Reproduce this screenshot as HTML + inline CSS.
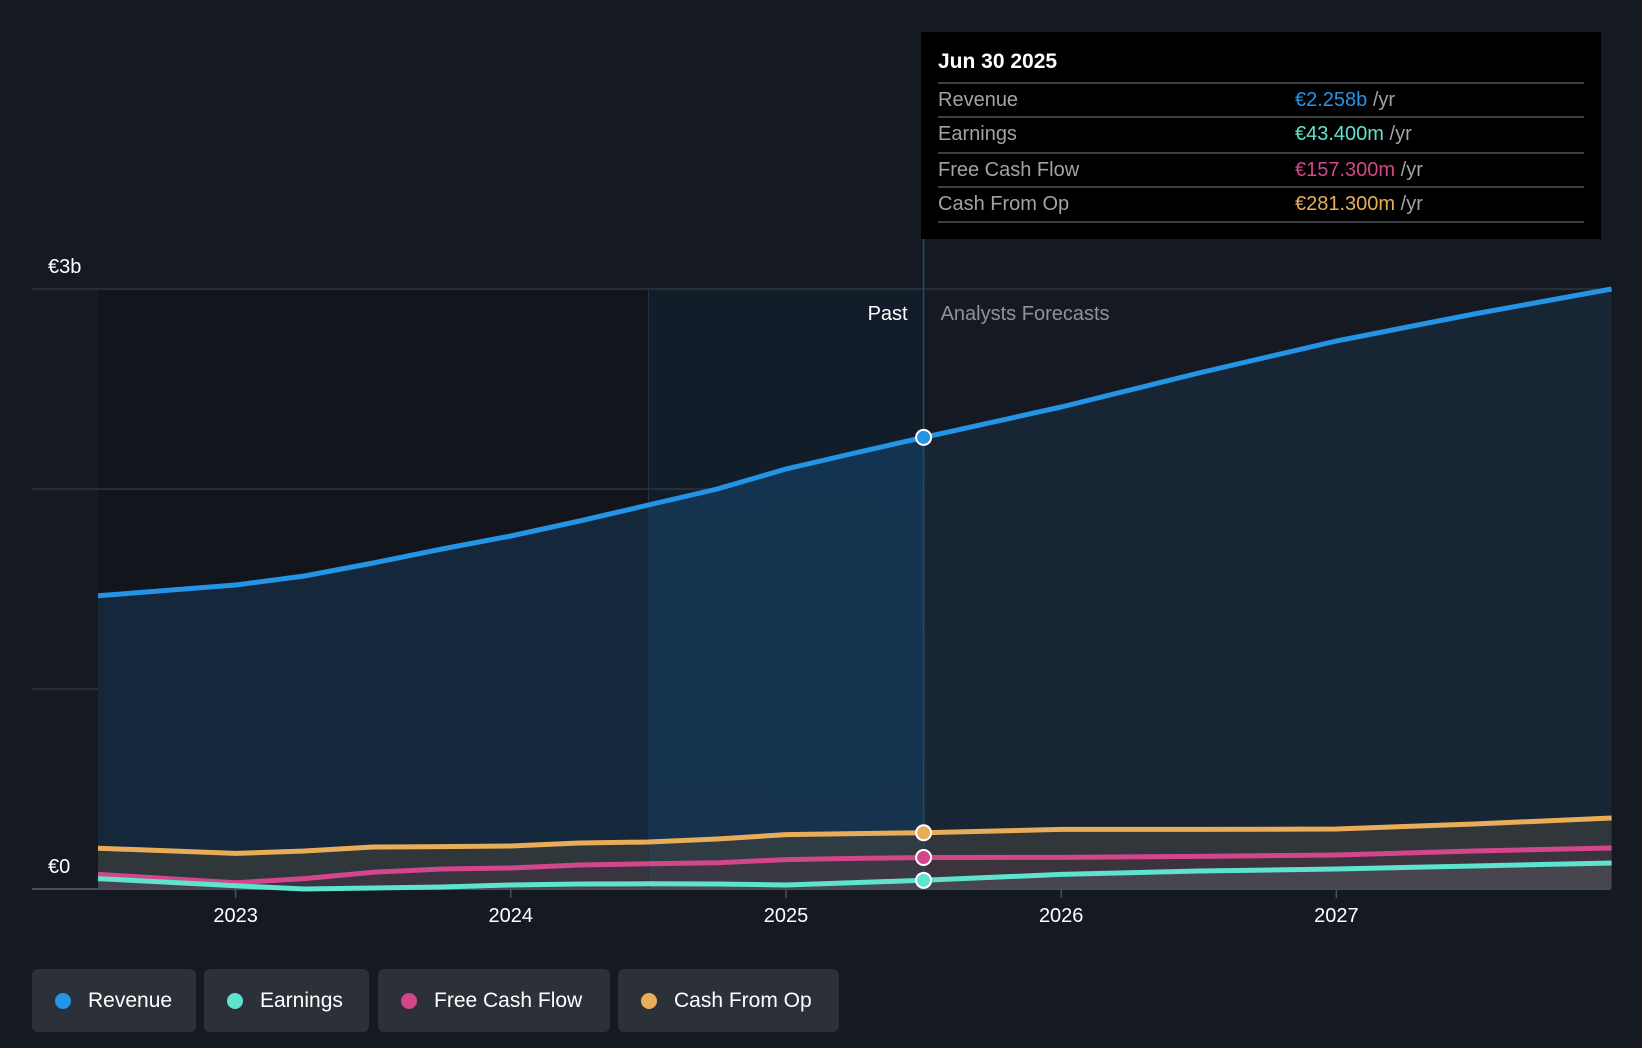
<!DOCTYPE html>
<html><head><meta charset="utf-8"><style>
html,body{margin:0;padding:0;background:#151a22;width:1642px;height:1048px;overflow:hidden;font-family:"Liberation Sans",sans-serif}
svg{position:absolute;left:0;top:0}
.tt{position:absolute;left:921px;top:32px;width:680px;height:207px;background:#000;color:#fff}
.tt .h{position:absolute;left:17px;top:18px;font-size:21px;font-weight:bold;color:#fff}
.row{position:absolute;left:17px;width:646px;height:34px;border-top:2px solid #3a3d42;font-size:20px;color:#a0a3a8;line-height:33px}
.row .v{position:absolute;left:357px;top:0}
.row .u{color:#a0a3a8}
.leg{position:absolute;top:969px;height:63px;background:#2c3038;border-radius:6px;color:#fff;font-size:21px;line-height:63px}
.leg i{position:absolute;left:23px;top:24px;width:16px;height:16px;border-radius:50%}
.leg span{position:absolute;left:56px}
</style></head><body>
<svg id="chart" width="1642" height="1048"></svg>
<div class="tt">
<div class="h">Jun 30 2025</div>
<div class="row" style="top:50px">Revenue<span class="v"><b style="font-weight:normal;color:#2394e6">€2.258b</b> <span class="u">/yr</span></span></div>
<div class="row" style="top:84px">Earnings<span class="v"><b style="font-weight:normal;color:#5ee3cf">€43.400m</b> <span class="u">/yr</span></span></div>
<div class="row" style="top:120px">Free Cash Flow<span class="v"><b style="font-weight:normal;color:#d2468c">€157.300m</b> <span class="u">/yr</span></span></div>
<div class="row" style="top:154px">Cash From Op<span class="v"><b style="font-weight:normal;color:#e9ad5a">€281.300m</b> <span class="u">/yr</span></span></div>
<div class="row" style="top:189px;height:0"></div>
</div>
<div class="leg" style="left:32px;width:164px"><i style="background:#2394e6"></i><span>Revenue</span></div>
<div class="leg" style="left:204px;width:165px"><i style="background:#5ee3cf"></i><span>Earnings</span></div>
<div class="leg" style="left:378px;width:232px"><i style="background:#d2468c"></i><span>Free Cash Flow</span></div>
<div class="leg" style="left:618px;width:221px"><i style="background:#e9ad5a"></i><span>Cash From Op</span></div>
<script>
const years=[2022.5,2023,2023.25,2023.5,2023.75,2024,2024.25,2024.5,2024.75,2025,2025.25,2025.5,2026,2026.5,2027,2027.5,2028];
const revenue=[1.466,1.52,1.565,1.63,1.70,1.765,1.84,1.92,2.0,2.10,2.18,2.258,2.41,2.58,2.74,2.875,3.0];
const earnings=[0.052,0.016,0.0,0.005,0.01,0.02,0.025,0.026,0.025,0.02,0.032,0.0434,0.073,0.09,0.10,0.115,0.13];
const fcf=[0.073,0.031,0.052,0.084,0.10,0.105,0.12,0.126,0.131,0.147,0.153,0.1573,0.158,0.163,0.17,0.19,0.205];
const cfo=[0.204,0.178,0.19,0.21,0.212,0.215,0.23,0.235,0.25,0.272,0.277,0.2813,0.298,0.298,0.30,0.325,0.355];
const yTicks=[0,1,2,3];
const yLabels=["€0","","","€3b"];
const xTicks=[2023,2024,2025,2026,2027];
const pastEnd=2025.5, highlightStart=2024.5;
const NS="http://www.w3.org/2000/svg";
const svg=document.getElementById('chart');
const X=t=>235.6+(t-2023)*275.2;
const Y=v=>889-v*200;
function el(tag,attrs,parent){const e=document.createElementNS(NS,tag);for(const k in attrs)e.setAttribute(k,attrs[k]);(parent||svg).appendChild(e);return e;}
const defs=el('defs',{});
const g=el('linearGradient',{id:'pg',x1:0,y1:0,x2:0,y2:1},defs);
el('stop',{offset:0,'stop-color':'#123553'},g);el('stop',{offset:1,'stop-color':'#16324c'},g);
let r=el('rect',{x:X(years[0]),y:Y(3),width:X(highlightStart)-X(years[0]),height:Y(0)-Y(3),fill:'#12161c'});

r=el('rect',{x:X(highlightStart),y:Y(3),width:X(pastEnd)-X(highlightStart),height:Y(0)-Y(3),fill:'#111d29'});

yTicks.forEach((v,i)=>{const l=el('line',{x1:32,x2:1610,y1:Y(v),y2:Y(v),stroke:i==0?'#4a4f57':'#343a44','stroke-width':i==0?2:1.3});

if(yLabels[i]){const t=el('text',{x:48,y:Y(v)-16,fill:'#fff','font-size':20,'font-family':'Liberation Sans'});t.textContent=yLabels[i];
}});
function path(vals,close){let d='';years.forEach((t,i)=>{d+=(i?'L':'M')+X(t).toFixed(1)+','+Y(vals[i]).toFixed(1);});
if(close)d+='L'+X(years[years.length-1])+','+Y(0)+'L'+X(years[0])+','+Y(0)+'Z';return d;}
const clipP=el('clipPath',{id:'cp'},defs);el('rect',{x:0,y:0,width:X(pastEnd),height:1048},clipP);
const clipF=el('clipPath',{id:'cf'},defs);el('rect',{x:X(pastEnd),y:0,width:1642,height:1048},clipF);
const clipA=el('clipPath',{id:'ca'},defs);el('rect',{x:0,y:0,width:X(highlightStart),height:1048},clipA);
let a=el('path',{d:path(revenue,true),fill:'#15273a','clip-path':'url(#ca)'});
const clipH=el('clipPath',{id:'ch'},defs);el('rect',{x:X(highlightStart),y:0,width:X(pastEnd)-X(highlightStart),height:1048},clipH);
a=el('path',{d:path(revenue,true),fill:'url(#pg)','clip-path':'url(#ch)'});
a=el('path',{d:path(revenue,true),fill:'#182535','clip-path':'url(#cf)'});
[[cfo,'rgba(70,70,60,0.55)','cfo-area'],[fcf,'rgba(80,50,70,0.35)','fcf-area'],[earnings,'rgba(100,110,120,0.3)','earnings-area']].forEach(s=>{
const p=el('path',{d:path(s[0],true),fill:s[1]});});
let dv=el('line',{x1:X(highlightStart),x2:X(highlightStart),y1:Y(3),y2:Y(0),stroke:'#1f3446','stroke-width':1});

dv=el('line',{x1:X(pastEnd),x2:X(pastEnd),y1:239,y2:Y(0),stroke:'#25496a','stroke-width':1.5});

const series=[[cfo,'#e9ad5a','cfo-line'],[fcf,'#d2468c','fcf-line'],[earnings,'#5ee3cf','earnings-line'],[revenue,'#2394e6','revenue-line']];
series.forEach(s=>{const p=el('path',{d:path(s[0],false),fill:'none',stroke:s[1],'stroke-width':5,'stroke-linejoin':'round'});

const i=years.indexOf(pastEnd);const c=el('circle',{cx:X(pastEnd),cy:Y(s[0][i]),r:7.5,fill:s[1],stroke:'#fff','stroke-width':2});
});
xTicks.forEach(t=>{const l=el('line',{x1:X(t),x2:X(t),y1:Y(0),y2:Y(0)+9,stroke:'#4a4f57','stroke-width':1.5});

const tx=el('text',{x:X(t),y:922,fill:'#fff','font-size':20,'text-anchor':'middle','font-family':'Liberation Sans'});tx.textContent=t;
});
let t=el('text',{x:X(pastEnd)-16,y:320,fill:'#fff','font-size':20,'text-anchor':'end','font-family':'Liberation Sans'});t.textContent='Past';

t=el('text',{x:X(pastEnd)+17,y:320,fill:'#8f9399','font-size':20,'font-family':'Liberation Sans'});t.textContent='Analysts Forecasts';

</script>
</body></html>
